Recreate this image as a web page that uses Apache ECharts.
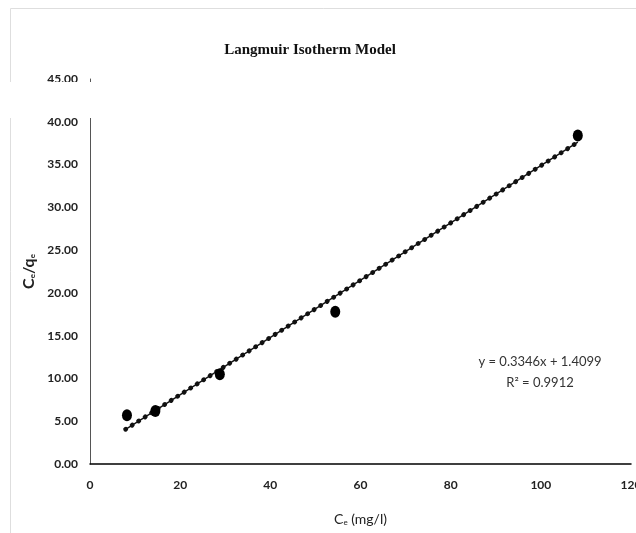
<!DOCTYPE html>
<html>
<head>
<meta charset="utf-8">
<script src="https://cdn.jsdelivr.net/npm/echarts@6/dist/echarts.min.js"></script>
<style>
  html, body { margin: 0; padding: 0; background: #fff; }
  #chart { width: 636px; height: 533px; }
</style>
</head>
<body>
<div id="chart"></div>
<script>
// measured points (Ce, Ce/qe)
const ceValues = [8.2, 14.5, 28.8, 54.4, 108.2];
const ceQeValues = [5.7, 6.2, 10.5, 17.8, 38.4];
// linear fit shown on the chart
const slope = 0.3346;
const intercept = 1.4099;
const fitLabel = 'y = 0.3346x + 1.4099';
const r2Label = 'R\u00b2 = 0.9912';
const xTicks = [0, 20, 40, 60, 80, 100, 120];
const yTicks = [0, 5, 10, 15, 20, 25, 30, 35, 40, 45];

const font = "Lato, 'Liberation Sans', sans-serif";

const points = ceValues.map((x, i) => [x, ceQeValues[i]]);
const xMin = Math.min(...ceValues) - 0.3;
const xMax = Math.max(...ceValues);
const trend = [[xMin, slope * xMin + intercept], [xMax, slope * xMax + intercept]];

const chart = echarts.init(document.getElementById('chart'));
chart.setOption({
  animation: false,
  backgroundColor: '#fff',
  grid: { left: 90, right: 5, top: 79, bottom: 69, containLabel: false, outerBoundsMode: 'none' },
  xAxis: {
    type: 'value',
    min: xTicks[0],
    max: xTicks[xTicks.length - 1],
    interval: 20,
    splitLine: { show: false },
    axisTick: { show: false },
    axisLine: { lineStyle: { color: '#000', width: 1.5 } },
    axisLabel: { color: '#222', fontFamily: font, fontWeight: 'bold', fontSize: 12, margin: 15, hideOverlap: false },
    name: '{m|C}{s|e}{m| (mg/l)}',
    nameLocation: 'middle',
    nameGap: 44,
    nameTextStyle: {
      rich: {
        m: { fontFamily: font, fontSize: 14, color: '#222', lineHeight: 18, verticalAlign: 'bottom' },
        s: { fontFamily: font, fontSize: 8, color: '#222', lineHeight: 18, verticalAlign: 'bottom' }
      }
    }
  },
  yAxis: {
    type: 'value',
    min: yTicks[0],
    max: yTicks[yTicks.length - 1],
    interval: 5,
    splitLine: { show: false },
    axisTick: { show: false },
    axisLine: { show: true, lineStyle: { color: '#555', width: 1 } },
    axisLabel: {
      color: '#222', fontFamily: font, fontWeight: 'bold', fontSize: 12, margin: 12,
      formatter: v => v.toFixed(2)
    },
    name: '{m|C}{s|e}{m|/q}{s|e}',
    nameLocation: 'middle',
    nameGap: 53,
    nameRotate: 90,
    nameTextStyle: {
      rich: {
        m: { fontFamily: font, fontSize: 16, fontWeight: 'bold', color: '#222', lineHeight: 20, verticalAlign: 'bottom' },
        s: { fontFamily: font, fontSize: 8, fontWeight: 'bold', color: '#222', lineHeight: 20, verticalAlign: 'bottom' }
      }
    }
  },
  series: [
    {
      name: 'trend line',
      type: 'line',
      data: trend,
      showSymbol: false,
      silent: true,
      lineStyle: { color: '#111', width: 1.4 },
      z: 2
    },
    {
      name: 'trend dots',
      type: 'line',
      data: trend,
      showSymbol: false,
      silent: true,
      lineStyle: { color: '#111', width: 4.8, type: [0.1, 7.6], cap: 'round' },
      z: 3
    },
    {
      name: 'data',
      type: 'scatter',
      data: points,
      symbol: 'circle',
      symbolSize: [10, 12],
      itemStyle: { color: '#000', opacity: 1 },
      z: 4
    }
  ],
  graphic: [
    {
      type: 'rect',
      shape: { x: 10.5, y: 8.5, width: 700, height: 600 },
      style: { fill: 'none', stroke: '#dedede', lineWidth: 1 },
      z: -10
    },
    {
      type: 'text',
      x: 310, y: 43,
      style: {
        text: 'Langmuir Isotherm Model',
        textAlign: 'center',
        font: "bold 15px 'Liberation Serif', 'DejaVu Serif', serif",
        fill: '#111'
      }
    },
    {
      type: 'text',
      x: 540, y: 355,
      style: {
        text: fitLabel, textAlign: 'center',
        font: '13px ' + font, fill: '#333'
      }
    },
    {
      type: 'text',
      x: 540, y: 376,
      style: {
        text: r2Label, textAlign: 'center',
        font: '13px ' + font, fill: '#333'
      }
    },
    {
      // blank band that cuts across the top of the plot in the source image
      type: 'rect',
      shape: { x: 0, y: 82, width: 636, height: 36 },
      style: { fill: '#fff' },
      z: 100
    }
  ]
});
</script>
</body>
</html>
